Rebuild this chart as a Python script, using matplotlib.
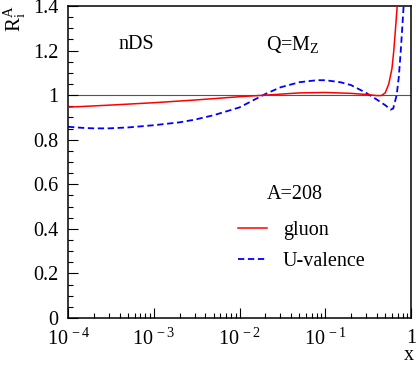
import numpy as np
import matplotlib
matplotlib.use('Agg')
import matplotlib.pyplot as plt
from matplotlib.ticker import FixedLocator, LogLocator, MultipleLocator, NullFormatter

plt.rcParams['font.family'] = ['Liberation Serif', 'DejaVu Serif']
plt.rcParams['mathtext.fontset'] = 'custom'
plt.rcParams['mathtext.rm'] = 'Liberation Serif'
plt.rcParams['mathtext.it'] = 'Liberation Serif:italic'
plt.rcParams['mathtext.default'] = 'regular'

# values
gluon_x = [1e-4, 3e-4, 1e-3, 3e-3, 1e-2, 2e-2, 5e-2, 0.1, 0.2, 0.3, 0.4, 0.45,
           0.5, 0.55, 0.6, 0.63, 0.66, 0.69, 0.71]
gluon_y = [0.946, 0.955, 0.966, 0.978, 0.993, 1.0, 1.01, 1.012, 1.008, 1.003, 0.998, 0.998,
           1.01, 1.05, 1.12, 1.2, 1.3, 1.4, 1.47]

uval_x = [1e-4, 1.5e-4, 2e-4, 3e-4, 5e-4, 1e-3, 2e-3, 3e-3, 5e-3, 1e-2, 2e-2, 3e-2,
          5e-2, 0.08, 0.1, 0.15, 0.2, 0.3, 0.4, 0.5, 0.58, 0.62, 0.68, 0.72, 0.76,
          0.79, 0.82, 0.84]
uval_y = [0.858, 0.853, 0.851, 0.851, 0.855, 0.865, 0.878, 0.89, 0.91, 0.945, 1.005, 1.035,
          1.058, 1.067, 1.067, 1.058, 1.045, 1.01, 0.98, 0.955, 0.935, 0.94, 1.0, 1.08, 1.2,
          1.3, 1.4, 1.47]

xticks = [1e-4, 1e-3, 1e-2, 1e-1, 1]
xticklabels = [r'$10^{\,-4}$', r'$10^{\,-3}$', r'$10^{\,-2}$', r'$10^{\,-1}$', '1']
yticks = [0, 0.2, 0.4, 0.6, 0.8, 1, 1.2, 1.4]
yticklabels = ['0', '0.2', '0.4', '0.6', '0.8', '1', '1.2', '1.4']

FS = 14.5

fig = plt.figure(figsize=(4.16, 3.68), dpi=100)
ax = fig.add_axes([0.1635, 0.1359, 0.8245, 0.8478])

ax.axhline(1.0, color='#555555', lw=0.8, zorder=1)
ax.plot(gluon_x, gluon_y, color='red', lw=1.1, label='gluon', zorder=3)
ax.plot(uval_x, uval_y, color='blue', lw=1.3, ls=(0, (3.5, 2)), label='U-valence', zorder=2)

ax.set_xscale('log')
ax.set_xlim(1e-4, 1)
ax.set_ylim(0, 1.4)

ax.xaxis.set_major_locator(FixedLocator(xticks))
ax.set_xticklabels(xticklabels)
ax.xaxis.set_minor_locator(LogLocator(base=10, subs=np.arange(2, 10)))
ax.xaxis.set_minor_formatter(NullFormatter())
ax.set_yticks(yticks)
ax.set_yticklabels(yticklabels)
ax.yaxis.set_minor_locator(MultipleLocator(0.05))

ax.tick_params(which='both', direction='in', top=False, right=False, labelsize=FS)
ax.tick_params(which='major', length=7.2, width=0.8)
ax.tick_params(which='minor', length=3.6, width=0.8)
ax.tick_params(axis='x', pad=8)
ax.tick_params(axis='y', pad=7)
for s in ax.spines.values():
    s.set_linewidth(1.1)

# axis titles, ROOT style at the ends of the axes
fig.text(0.036, 0.985, r'$R_{i}^{A}$', fontsize=15, rotation=90, ha='center', va='top')
fig.text(0.982, 0.008, 'x', fontsize=FS, ha='center', va='bottom')

ax.text(0.198, 0.875, 'nDS', transform=ax.transAxes, ha='center', va='center', fontsize=FS)
ax.text(0.655, 0.875, r'Q=M$_Z$', transform=ax.transAxes, ha='center', va='center', fontsize=FS)
ax.text(0.662, 0.395, 'A=208', transform=ax.transAxes, ha='center', va='center', fontsize=FS)

ax.legend(loc='upper left', bbox_to_anchor=(0.497, 0.312), frameon=False, fontsize=FS,
          borderpad=0, borderaxespad=0, handlelength=1.4, handletextpad=0.8, labelspacing=0.62)

fig.savefig('out.png', dpi=100)
